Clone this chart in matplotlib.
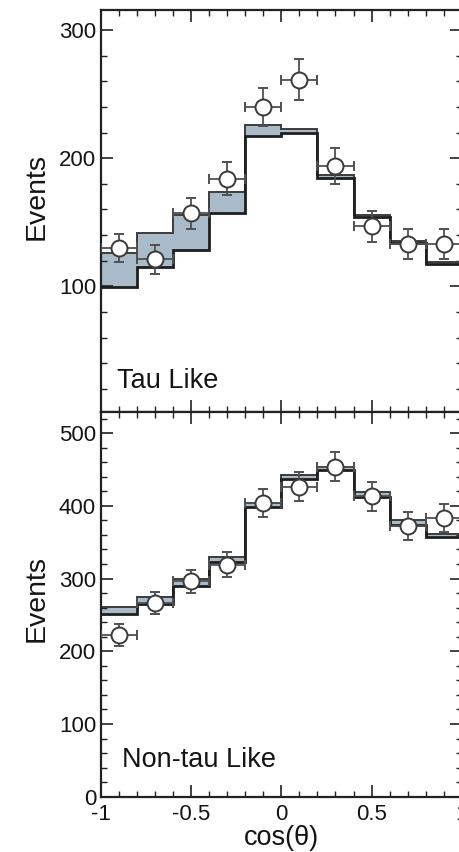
import numpy as np
import matplotlib.pyplot as plt
from matplotlib.ticker import MultipleLocator, FixedLocator

plt.rcParams['font.family'] = ['Liberation Sans', 'DejaVu Sans']
plt.rcParams['axes.unicode_minus'] = False

edges = np.linspace(-1, 1, 11)
centers = np.round(0.5 * (edges[:-1] + edges[1:]), 2)

# Tau-like sample
tau_data = [130, 121, 157, 184, 240, 261, 194, 147, 133, 133]
tau_err = [11, 11, 12, 13, 15, 16, 14, 12, 12, 12]
tau_bkg = [99.5, 115, 128.7, 157.3, 217.2, 219.8, 184.5, 154.2, 133.8, 117.2]
tau_tot = [126, 141.7, 156, 173.4, 225.5, 223, 186.5, 155.8, 135.4, 118.8]

# Non-tau-like sample
ntau_data = [222, 266, 296, 319, 404, 426, 454, 413, 372, 383]
ntau_err = [15, 15, 16, 17, 19, 20, 20, 20, 19, 19]
ntau_bkg = [251.5, 265, 290, 323, 398, 437, 449, 412, 374, 357]
ntau_tot = [260.5, 274.4, 299, 330, 404, 442, 454, 419, 380, 361]

fill_col = '#a9bbc8'
text_col = '#141414'

fig = plt.figure(figsize=(4.59, 8.52), dpi=100)
ax_top = fig.add_axes([0.220, 0.5164, 0.786, 0.4719])
ax_bot = fig.add_axes([0.220, 0.0649, 0.786, 0.4515])


def draw_panel(ax, data, err, bkg, tot, label, label_pos):
    ax.stairs(tot, edges, baseline=bkg, fill=True, color=fill_col, zorder=1)
    ax.stairs(tot, edges, baseline=None, color='#3c3c3c', lw=1.4, zorder=2)
    ax.stairs(bkg, edges, baseline=None, color='#1e1e1e', lw=2.0, zorder=3)
    ax.errorbar(centers, data, xerr=0.1, yerr=err, fmt='o', ms=11.5,
                mfc='white', mec='#3a3a3a', mew=1.4, ecolor='#505050',
                elinewidth=1.3, capsize=3.5, capthick=1.3, zorder=4)
    ax.set_xlim(-1, 1)
    ax.xaxis.set_major_locator(FixedLocator([-1, -0.5, 0, 0.5, 1]))
    ax.xaxis.set_minor_locator(MultipleLocator(0.1))
    ax.yaxis.set_major_locator(MultipleLocator(100))
    ax.yaxis.set_minor_locator(MultipleLocator(20))
    ax.tick_params(which='both', direction='in', top=True, right=True,
                   colors='#222222', labelcolor=text_col, labelsize=16)
    ax.tick_params(which='major', length=8.5, width=1.2)
    ax.tick_params(which='minor', length=4, width=1.0)
    for sp in ax.spines.values():
        sp.set_linewidth(1.6)
        sp.set_color('#222222')
    ax.set_ylabel('Events', fontsize=20.5, color=text_col)
    ax.text(label_pos[0], label_pos[1], label, fontsize=19.5, color=text_col,
            transform=ax.transAxes)


draw_panel(ax_top, tau_data, tau_err, tau_bkg, tau_tot, 'Tau Like', (0.044, 0.06))
ax_top.set_ylim(2, 315.6)
ax_top.tick_params(labelbottom=False)
ax_top.yaxis.set_label_coords(-0.141, 0.535)

draw_panel(ax_bot, ntau_data, ntau_err, ntau_bkg, ntau_tot, 'Non-tau Like', (0.057, 0.078))
ax_bot.set_ylim(0, 529)
ax_bot.set_xticklabels(['-1', '-0.5', '0', '0.5', '1'])
ax_bot.tick_params(axis='x', pad=5)
ax_bot.yaxis.set_label_coords(-0.141, 0.516)
ax_bot.set_xlabel('cos(θ)', fontsize=19.5, color=text_col)
ax_bot.xaxis.set_label_coords(0.5, -0.074)

fig.savefig('out.png', dpi=100)
